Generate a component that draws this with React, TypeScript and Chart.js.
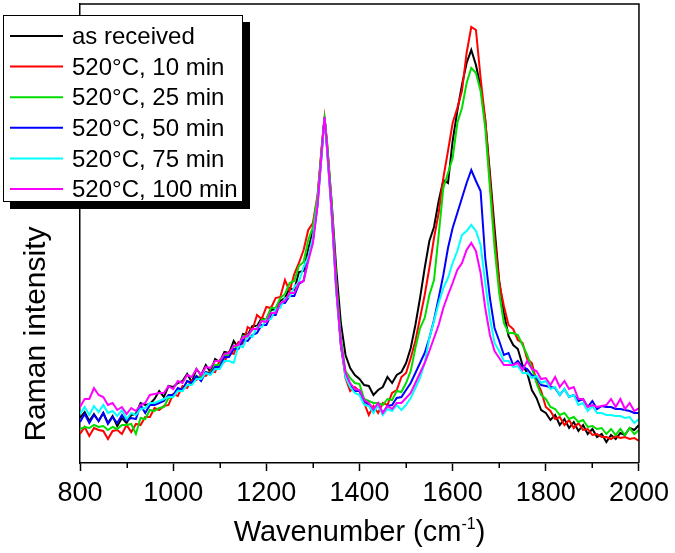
import React, { useEffect, useRef } from "react";
import { Chart, registerables } from "chart.js";

Chart.register(...registerables);

// Raman shift grid (cm^-1)
const WAVENUMBER = [
  800, 810, 820, 830, 840, 850, 860, 870, 880, 890,
  900, 910, 920, 930, 940, 950, 960, 970, 980, 990,
  1000, 1010, 1020, 1030, 1040, 1050, 1060, 1070, 1080, 1090,
  1100, 1110, 1120, 1130, 1140, 1150, 1160, 1170, 1180, 1190,
  1200, 1210, 1220, 1230, 1240, 1250, 1260, 1270, 1280, 1290,
  1300, 1310, 1320, 1325, 1330, 1340, 1350, 1360, 1370, 1380, 1390,
  1400, 1410, 1420, 1430, 1440, 1450, 1460, 1470, 1480, 1490,
  1500, 1510, 1520, 1530, 1540, 1550, 1560, 1570, 1580, 1590,
  1600, 1610, 1620, 1630, 1640, 1650, 1660, 1670, 1680, 1690,
  1700, 1710, 1720, 1730, 1740, 1750, 1760, 1770, 1780, 1790,
  1800, 1810, 1820, 1830, 1840, 1850, 1860, 1870, 1880, 1890,
  1900, 1910, 1920, 1930, 1940, 1950, 1960, 1970, 1980, 1990,
  2000,
];

const AS_RECEIVED = [
  45, 51, 42, 49, 42, 50, 40, 47, 37, 45,
  40, 48, 49, 60, 58, 59, 64, 72, 66, 77,
  76, 80, 82, 89, 81, 94, 88, 98, 91, 104,
  101, 111, 110, 122, 115, 129, 128, 137, 137, 145,
  143, 153, 154, 162, 165, 175, 173, 191, 192, 214,
  232, 264, 320, 346, 320, 262, 195, 140, 108, 95, 88,
  84, 78, 77, 68, 73, 76, 86, 80, 88, 91,
  100, 115, 138, 165, 195, 222, 236, 262, 283, 280,
  322, 352, 378, 400, 413, 398, 376, 343, 290, 235,
  182, 150, 127, 118, 114, 98, 90, 73, 65, 53,
  50, 43, 48, 38, 44, 35, 41, 32, 38, 29,
  34, 26, 29, 21, 28, 24, 30, 28, 35, 33,
  38,
];

const MIN_10 = [
  29, 36, 27, 35, 33, 32, 24, 32, 33, 29,
  38, 31, 39, 38, 46, 46, 55, 53, 57, 58,
  69, 67, 77, 75, 83, 83, 88, 87, 92, 91,
  103, 101, 111, 109, 121, 119, 136, 133, 148, 144,
  156, 155, 165, 166, 183, 172, 189, 200, 213, 233,
  240, 268, 322, 345, 322, 258, 180, 118, 85, 72, 76,
  72, 60, 48, 57, 50, 60, 58, 70, 73, 86,
  90, 105, 122, 145, 168, 195, 225, 250, 285, 312,
  340, 355, 372, 410, 436, 433, 385, 343, 285, 225,
  180, 157, 138, 134, 123, 120, 104, 100, 82, 72,
  56, 52, 44, 46, 38, 43, 35, 40, 33, 34,
  28, 29, 26, 26, 24, 27, 25, 26, 24, 25,
  22,
];

const MIN_25 = [
  34, 36, 35, 38, 36, 37, 33, 36, 34, 38,
  38, 39, 29, 45, 44, 53, 52, 55, 56, 65,
  66, 73, 72, 82, 79, 87, 85, 91, 90, 98,
  98, 108, 108, 117, 115, 127, 126, 134, 134, 143,
  144, 155, 155, 165, 169, 180, 182, 197, 201, 223,
  236, 266, 321, 344, 324, 262, 183, 125, 92, 85, 80,
  79, 64, 62, 60, 60, 58, 64, 63, 72, 71,
  80, 92, 115, 135, 145, 168, 183, 228, 275, 290,
  305, 340, 355, 380, 395, 390, 372, 335, 275, 215,
  170, 140, 130, 130, 128, 118, 108, 95, 80, 68,
  64, 56, 54, 48, 50, 44, 46, 41, 43, 36,
  37, 34, 35, 29, 34, 28, 34, 28, 35, 29,
  33,
];

const MIN_50 = [
  41, 49, 40, 48, 42, 50, 39, 46, 40, 48,
  42, 45, 44, 58, 50, 58, 58, 60, 62, 68,
  68, 75, 73, 82, 80, 87, 82, 91, 89, 96,
  96, 106, 106, 114, 114, 123, 122, 128, 130, 138,
  138, 148, 148, 160, 160, 167, 167, 179, 182, 205,
  222, 258, 316, 346, 316, 252, 174, 118, 88, 78, 72,
  72, 62, 58, 52, 58, 50, 57, 58, 65, 66,
  73, 80, 90, 100, 110, 125, 143, 165, 188, 215,
  235, 250, 265, 280, 293, 282, 272, 205, 165, 135,
  122, 108, 110, 98, 102, 96, 94, 88, 85, 78,
  77, 76, 75, 68, 74, 66, 68, 62, 64, 56,
  62, 54, 57, 56, 56, 54, 54, 53, 52, 50,
  50,
];

const MIN_75 = [
  49, 56, 48, 57, 51, 58, 50, 52, 47, 53,
  44, 50, 48, 54, 55, 60, 60, 62, 64, 66,
  66, 72, 72, 78, 78, 84, 84, 90, 88, 94,
  94, 102, 102, 100, 117, 116, 128, 126, 136, 136,
  143, 144, 154, 155, 165, 166, 176, 181, 196, 206,
  226, 260, 316, 346, 316, 252, 172, 120, 86, 76, 70,
  68, 58, 57, 50, 58, 48, 54, 52, 58, 53,
  58, 65, 75, 85, 100, 125, 142, 160, 175, 185,
  200, 212, 228, 232, 238, 232, 218, 180, 145, 120,
  112, 102, 102, 96, 97, 90, 90, 85, 87, 80,
  82, 74, 76, 68, 74, 66, 68, 58, 60, 52,
  57, 50, 50, 48, 48, 47, 47, 45, 46, 40,
  44,
];

const MIN_100 = [
  56, 64, 64, 75, 68, 66, 58, 60, 53, 56,
  49, 55, 52, 58, 60, 68, 69, 70, 70, 77,
  74, 82, 80, 88, 86, 94, 88, 96, 95, 102,
  102, 109, 110, 117, 118, 126, 127, 134, 134, 142,
  141, 150, 150, 160, 162, 170, 170, 180, 182, 202,
  220, 258, 318, 346, 318, 254, 175, 120, 90, 80, 74,
  73, 63, 60, 54, 60, 50, 57, 54, 60, 60,
  65, 70, 80, 90, 100, 112, 125, 138, 155, 168,
  180, 193, 200, 213, 220, 212, 190, 155, 128, 112,
  105, 98, 98, 98, 100, 93, 102, 94, 92, 84,
  85, 78, 86, 76, 82, 74, 76, 64, 64, 56,
  58, 56, 57, 58, 64, 56, 64, 54, 60, 52,
  55,
];

const SERIES_LABELS = [
  "as received",
  "520°C, 10 min",
  "520°C, 25 min",
  "520°C, 50 min",
  "520°C, 75 min",
  "520°C, 100 min",
];
const SERIES_VALUES = [AS_RECEIVED, MIN_10, MIN_25, MIN_50, MIN_75, MIN_100];
const SERIES_COLORS = ["#000000", "#ff0000", "#00dd00", "#0000ff", "#00ffff", "#ff00ff"];

const X_MIN = 800;
const X_MAX = 2000;
const X_MAJOR_TICKS = [800, 1000, 1200, 1400, 1600, 1800, 2000];
const X_MINOR_TICKS = [900, 1100, 1300, 1500, 1700, 1900];
const X_TITLE = "Wavenumber (cm";
const X_TITLE_SUP = "-1";
const X_TITLE_END = ")";
const Y_TITLE = "Raman intensity";

const FONT = "'Liberation Sans', Arial, sans-serif";

const decorPlugin = {
  id: "decor",
  afterDatasetsDraw(chart: any) {
    const { ctx, chartArea, scales } = chart;
    const { left, top, right, bottom } = chartArea;
    const x = scales.x;
    ctx.save();
    ctx.strokeStyle = "#000";
    ctx.lineWidth = 1.5;
    ctx.beginPath();
    ctx.moveTo(left, top);
    ctx.lineTo(right, top);
    ctx.lineTo(right, bottom);
    ctx.stroke();
    ctx.beginPath();
    X_MINOR_TICKS.forEach((v) => {
      const px = Math.round(x.getPixelForValue(v)) + 0.25;
      ctx.moveTo(px, bottom);
      ctx.lineTo(px, bottom + 5);
    });
    ctx.stroke();
    ctx.restore();
  },
  afterDraw(chart: any) {
    const { ctx, chartArea } = chart;
    const { left, right, bottom } = chartArea;
    ctx.save();
    ctx.fillStyle = "#000";

    // Y title
    ctx.save();
    ctx.translate(left - 43, bottom - 129);
    ctx.rotate(-Math.PI / 2);
    ctx.font = `30px ${FONT}`;
    ctx.textAlign = "center";
    ctx.textBaseline = "middle";
    ctx.fillText(Y_TITLE, 0, 0);
    ctx.restore();

    // X title with superscript
    const mainFont = `29px ${FONT}`;
    const supFont = `16px ${FONT}`;
    ctx.font = mainFont;
    const w1 = ctx.measureText(X_TITLE).width;
    const w3 = ctx.measureText(X_TITLE_END).width;
    ctx.font = supFont;
    const w2 = ctx.measureText(X_TITLE_SUP).width;
    const total = w1 + w2 + w3;
    const cx = (left + right) / 2;
    let sx = cx - total / 2;
    const base = bottom + 78;
    ctx.textAlign = "left";
    ctx.textBaseline = "alphabetic";
    ctx.font = mainFont;
    ctx.fillText(X_TITLE, sx, base);
    sx += w1;
    ctx.font = supFont;
    ctx.fillText(X_TITLE_SUP, sx, base - 12);
    sx += w2;
    ctx.font = mainFont;
    ctx.fillText(X_TITLE_END, sx, base);

    // Legend box with drop shadow
    const bx = 3, by = 15, bw = 240, bh = 187;
    ctx.fillStyle = "#000";
    ctx.fillRect(bx + 7, by + 7, bw, bh);
    ctx.fillStyle = "#fff";
    ctx.fillRect(bx, by, bw, bh);
    ctx.strokeStyle = "#000";
    ctx.lineWidth = 1;
    ctx.strokeRect(bx + 0.5, by + 0.5, bw - 1, bh - 1);
    ctx.font = `24px ${FONT}`;
    ctx.textAlign = "left";
    ctx.textBaseline = "middle";
    SERIES_LABELS.forEach((label, i) => {
      const y = by + 21 + i * 30.6;
      ctx.strokeStyle = SERIES_COLORS[i];
      ctx.lineWidth = 2;
      ctx.beginPath();
      ctx.moveTo(bx + 7, y);
      ctx.lineTo(bx + 60, y);
      ctx.stroke();
      ctx.fillStyle = "#000";
      ctx.fillText(label, bx + 69, y + 1.5);
    });
    ctx.restore();
  },
};

export default function App() {
  const canvasRef = useRef<HTMLCanvasElement | null>(null);

  useEffect(() => {
    if (!canvasRef.current) return;
    const datasets = SERIES_VALUES.map((vals, i) => ({
      label: SERIES_LABELS[i],
      data: WAVENUMBER.map((w, j) => ({ x: w, y: vals[j] })),
      borderColor: SERIES_COLORS[i],
      backgroundColor: SERIES_COLORS[i],
      borderWidth: 2,
      pointRadius: 0,
      tension: 0,
      fill: false,
      order: SERIES_VALUES.length - 1 - i,
    }));
    const chart = new Chart(canvasRef.current, {
      type: "line",
      data: { datasets },
      options: {
        responsive: false,
        animation: false,
        events: [],
        layout: { padding: { top: 4, right: 34, left: 0, bottom: 0 } },
        plugins: {
          legend: { display: false },
          tooltip: { enabled: false },
          title: { display: false },
        },
        scales: {
          x: {
            type: "linear",
            min: X_MIN,
            max: X_MAX,
            afterBuildTicks: (scale: any) => {
              scale.ticks = X_MAJOR_TICKS.map((v) => ({ value: v }));
            },
            ticks: {
              font: { family: FONT, size: 27 },
              color: "#000",
              padding: 6,
              maxRotation: 0,
              autoSkip: false,
              callback: (v: any) => String(v),
            },
            grid: {
              drawOnChartArea: false,
              drawTicks: true,
              tickLength: 8,
              tickColor: "#000",
              tickWidth: 1.5,
            },
            border: { display: true, color: "#000", width: 1.5 },
            afterFit: (s: any) => {
              s.height = 90;
            },
          },
          y: {
            type: "linear",
            min: 0,
            max: 459,
            ticks: { display: false },
            grid: { display: false },
            border: { display: true, color: "#000", width: 1.5 },
            afterFit: (s: any) => {
              s.width = 80;
            },
          },
        },
      },
      plugins: [decorPlugin],
    } as any);
    return () => chart.destroy();
  }, []);

  return (
    <canvas
      ref={canvasRef}
      width={675}
      height={553}
      style={{ position: "absolute", left: 0, top: 0, width: 675, height: 553 }}
    />
  );
}
